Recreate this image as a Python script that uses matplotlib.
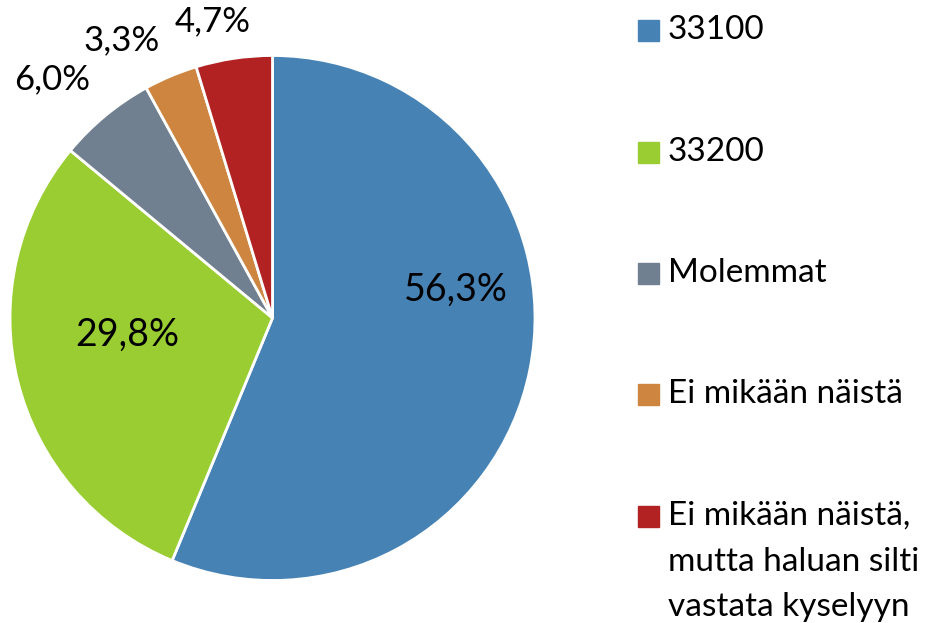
import matplotlib.pyplot as plt
from matplotlib.patches import Rectangle

plt.rcParams['font.family'] = ['Lato', 'DejaVu Sans']

# shares of answers, percent
categories = ['33100', '33200', 'Molemmat', 'Ei mikään näistä',
              'Ei mikään näistä,\nmutta haluan silti\nvastata kyselyyn']
values = [56.3, 29.8, 6.0, 3.3, 4.7]
colors = ['#4682B4', '#9ACD32', '#708090', '#CD853F', '#B22222']

# label spots in pie data units (radius = 1)
label_pos = [(0.70, 0.107), (-0.553, -0.065), (-0.84, 0.908),
             (-0.576, 1.057), (-0.229, 1.13)]
label_size = [27, 27, 25, 25, 25]

fig = plt.figure(figsize=(9.39, 6.23), dpi=100)
ax = fig.add_axes([10 / 939, (623 - 318 - 262.5) / 623, 525 / 939, 525 / 623])

ax.pie(values, colors=colors, startangle=90, counterclock=False,
       wedgeprops=dict(edgecolor='white', linewidth=2))
ax.set_xlim(-1, 1)
ax.set_ylim(-1, 1)
ax.set_aspect('equal')
ax.axis('off')

for v, (x, y), fs in zip(values, label_pos, label_size):
    ax.text(x, y, f'{v:.1f}%'.replace('.', ','), ha='center', va='center',
            fontsize=fs, color='black')

# legend, built by hand so the squares sit at the first text line
row_y = [30, 152, 273, 394, 516]
for name, c, y in zip(categories, colors, row_y):
    fig.patches.append(Rectangle((638 / 939, 1 - (y + 10.5) / 623), 21 / 939, 21 / 623,
                                 transform=fig.transFigure, color=c))
    fig.text(668 / 939, 1 - (y - 15) / 623, name, ha='left', va='top',
             fontsize=24, linespacing=1.65)

fig.savefig('out.png', dpi=100)
